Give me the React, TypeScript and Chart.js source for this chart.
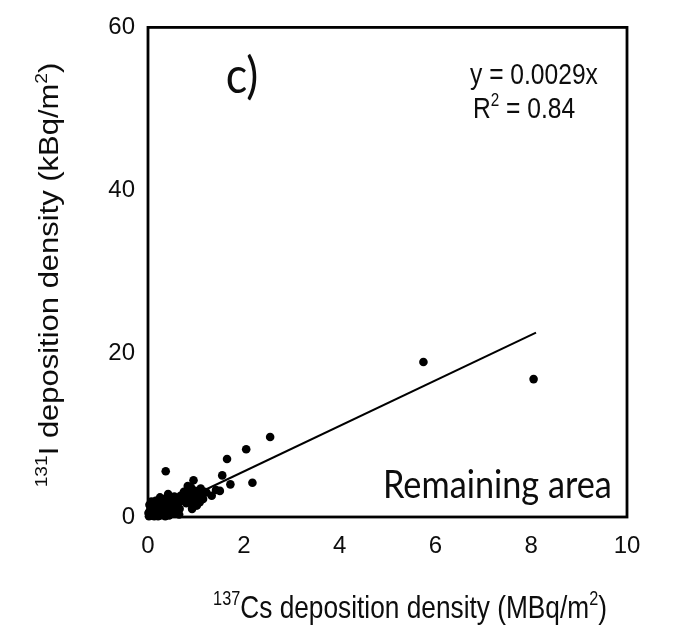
import React, { useEffect, useRef } from "react";
import { Chart, registerables } from "chart.js";

Chart.register(...registerables);

// ---- data ----
const X_MIN = 0;
const X_MAX = 10;
const X_STEP = 2;
const Y_MIN = 0;
const Y_MAX = 60;
const Y_STEP = 20;

// 137Cs deposition density (MBq/m2)
const csDeposition = [
  5.75, 8.05, 2.55, 2.05, 1.65, 0.37, 1.55, 0.95, 2.18, 1.72, 1.42, 1.22, 1.5, 1.33, 0.42, 0.92, 1.02,
  0.72, 0.78, 0.85, 0.9, 0.98, 1.05, 1.1, 1.15, 0.8, 0.88, 0.95, 1.0, 0.68, 0.75, 0.62, 0.58, 0.83, 1.08, 1.18, 0.93,
  0.02, 0.05, 0.08, 0.1, 0.12, 0.15, 0.18, 0.2, 0.22, 0.25, 0.28, 0.3, 0.32, 0.35, 0.38, 0.4, 0.42, 0.45, 0.48, 0.5,
  0.52, 0.55, 0.6, 0.63, 0.66, 0.04, 0.06, 0.03, 0.07, 0.09, 0.11, 0.14, 0.16, 0.19, 0.24, 0.27, 0.31, 0.34, 0.01,
  0.13, 0.17, 0.21, 0.26, 0.33, 0.36, 0.41, 0.44, 0.47, 0.53, 0.57, 0.61, 0.65, 0.05, 0.1, 0.15, 0.2, 0.29, 0.39,
  0.46, 0.56, 0.25, 0.45, 0.55,
];
// 131I deposition density (kBq/m2)
const iDeposition = [
  19.0, 16.9, 9.8, 8.3, 7.1, 5.6, 5.1, 4.5, 4.2, 4.0, 3.3, 3.0, 3.2, 2.6, 2.8, 1.0, 1.4,
  2.0, 2.5, 3.0, 3.6, 3.2, 2.8, 3.5, 2.2, 1.7, 2.2, 2.6, 2.0, 2.6, 3.1, 2.2, 1.6, 3.8, 1.8, 3.1, 1.5,
  0.1, 0.3, 0.2, 0.5, 0.8, 0.4, 0.6, 1.0, 0.3, 0.7, 1.2, 0.5, 0.9, 1.4, 0.8, 1.1, 1.6, 0.9, 1.3, 1.8,
  1.0, 1.5, 1.2, 1.7, 1.0, 0.8, 1.2, 1.5, 1.9, 1.0, 1.6, 1.3, 2.0, 1.7, 1.5, 2.0, 1.8, 2.2, 0.5,
  0.1, 0.2, 0.1, 0.2, 0.3, 0.1, 0.4, 0.2, 0.6, 0.4, 0.7, 0.5, 0.3, 0.6, 0.2, 0.9, 0.4, 0.9, 0.5,
  1.1, 0.9, 2.4, 2.3, 2.5,
];

// fitted line (through origin) as drawn in the reference
const trendX = [0, 8.1];
const trendY = [0, 22.6];

const PANEL_LABEL = "c)";
const EQUATION = "y = 0.0029x";
const R2_VALUE = "0.84";
const AREA_LABEL = "Remaining area";

type Seg = { t: string; sup?: boolean };
const X_TITLE: Seg[] = [
  { t: "137", sup: true },
  { t: "Cs deposition density (MBq/m" },
  { t: "2", sup: true },
  { t: ")" },
];
const Y_TITLE: Seg[] = [
  { t: "131", sup: true },
  { t: "I deposition density (kBq/m" },
  { t: "2", sup: true },
  { t: ")" },
];
const R2_TEXT: Seg[] = [{ t: "R" }, { t: "2", sup: true }, { t: " = " + R2_VALUE }];

const W = 673;
const H = 642;
const ARIAL = "'Liberation Sans', Arial, sans-serif";
const CALIBRI = "Lato, 'Open Sans', sans-serif";
const INK = "#0d0d0d";

function richWidth(ctx: CanvasRenderingContext2D, segs: Seg[], size: number, family: string) {
  let w = 0;
  for (const s of segs) {
    ctx.font = `${s.sup ? size * 0.62 : size}px ${family}`;
    w += ctx.measureText(s.t).width;
  }
  return w;
}

function drawRich(
  ctx: CanvasRenderingContext2D,
  segs: Seg[],
  size: number,
  family: string,
  align: "left" | "center"
) {
  const total = richWidth(ctx, segs, size, family);
  let cx = align === "center" ? -total / 2 : 0;
  ctx.textAlign = "left";
  ctx.textBaseline = "alphabetic";
  for (const s of segs) {
    const sz = s.sup ? size * 0.62 : size;
    ctx.font = `${sz}px ${family}`;
    ctx.fillText(s.t, cx, s.sup ? -size * 0.4 : 0);
    cx += ctx.measureText(s.t).width;
  }
}

function fitSize(ctx: CanvasRenderingContext2D, segs: Seg[], family: string, target: number) {
  const base = 20;
  return (base * target) / richWidth(ctx, segs, base, family);
}

const decorPlugin = {
  id: "decor",
  beforeDatasetsDraw(chart: any) {
    const { ctx, chartArea } = chart;
    ctx.save();
    ctx.strokeStyle = "#000";
    ctx.lineWidth = 2.8;
    ctx.strokeRect(chartArea.left, chartArea.top, chartArea.right - chartArea.left, chartArea.bottom - chartArea.top);
    ctx.restore();
  },
  afterDraw(chart: any) {
    const { ctx } = chart;
    const k = 1.2; // vertical stretch of the source figure
    ctx.save();
    ctx.fillStyle = INK;

    // x axis title
    const xs = fitSize(ctx, X_TITLE, ARIAL, 394);
    ctx.save();
    ctx.translate(410, 618);
    ctx.scale(1, k);
    drawRich(ctx, X_TITLE, xs, ARIAL, "center");
    ctx.restore();

    // y axis title
    const ys = fitSize(ctx, Y_TITLE, ARIAL, 425 / k);
    ctx.save();
    ctx.translate(58, 275);
    ctx.rotate(-Math.PI / 2);
    ctx.scale(k, 1.05);
    drawRich(ctx, Y_TITLE, ys * 1.0, ARIAL, "center");
    ctx.restore();

    // panel label
    ctx.save();
    ctx.translate(242, 93);
    ctx.scale(1, 1.12);
    ctx.font = `45px ${CALIBRI}`;
    ctx.textAlign = "center";
    ctx.textBaseline = "alphabetic";
    ctx.fillText(PANEL_LABEL, 0, 0);
    ctx.restore();

    // equation + R2
    const es = fitSize(ctx, [{ t: EQUATION }], ARIAL, 128);
    ctx.save();
    ctx.translate(470, 84);
    ctx.scale(1, k);
    drawRich(ctx, [{ t: EQUATION }], es, ARIAL, "left");
    ctx.restore();
    ctx.save();
    ctx.translate(473, 118);
    ctx.scale(1, k);
    drawRich(ctx, R2_TEXT, es, ARIAL, "left");
    ctx.restore();

    // area label
    const as = fitSize(ctx, [{ t: AREA_LABEL }], CALIBRI, 229);
    ctx.save();
    ctx.translate(383, 498);
    ctx.scale(1, 1.15);
    drawRich(ctx, [{ t: AREA_LABEL }], as, CALIBRI, "left");
    ctx.restore();

    ctx.restore();
  },
};

export default function App() {
  const ref = useRef<HTMLCanvasElement | null>(null);

  useEffect(() => {
    const canvas = ref.current;
    if (!canvas) return;
    const points = csDeposition.map((x, i) => ({ x, y: iDeposition[i] }));
    const trend = trendX.map((x, i) => ({ x, y: trendY[i] }));

    const chart = new Chart(canvas, {
      type: "scatter",
      data: {
        datasets: [
          {
            type: "line",
            data: trend,
            borderColor: "#000",
            borderWidth: 2,
            pointRadius: 0,
            showLine: true,
            fill: false,
            clip: false,
          } as any,
          {
            data: points,
            backgroundColor: "#000",
            borderColor: "#000",
            borderWidth: 0,
            pointRadius: 4.3,
            clip: false,
          } as any,
        ],
      },
      options: {
        animation: false,
        responsive: false,
        events: [],
        layout: { padding: { left: 0, right: W - 627, top: 27, bottom: 0 } },
        plugins: { legend: { display: false }, tooltip: { enabled: false }, title: { display: false } },
        scales: {
          x: {
            type: "linear",
            min: X_MIN,
            max: X_MAX,
            grid: { display: false, drawTicks: false },
            border: { display: false },
            ticks: {
              stepSize: X_STEP,
              color: INK,
              padding: 15,
              font: { family: ARIAL, size: 24 },
            },
            afterFit: (s: any) => {
              s.height = H - 517;
            },
          },
          y: {
            type: "linear",
            min: Y_MIN,
            max: Y_MAX,
            grid: { display: false, drawTicks: false },
            border: { display: false },
            ticks: {
              stepSize: Y_STEP,
              color: INK,
              padding: 13,
              font: { family: ARIAL, size: 24 },
            },
            afterFit: (s: any) => {
              s.width = 148;
            },
          },
        },
      },
      plugins: [decorPlugin],
    });
    return () => chart.destroy();
  }, []);

  return (
    <canvas
      ref={ref}
      width={W}
      height={H}
      style={{ position: "absolute", left: 0, top: 0, width: W, height: H, display: "block" }}
    />
  );
}
